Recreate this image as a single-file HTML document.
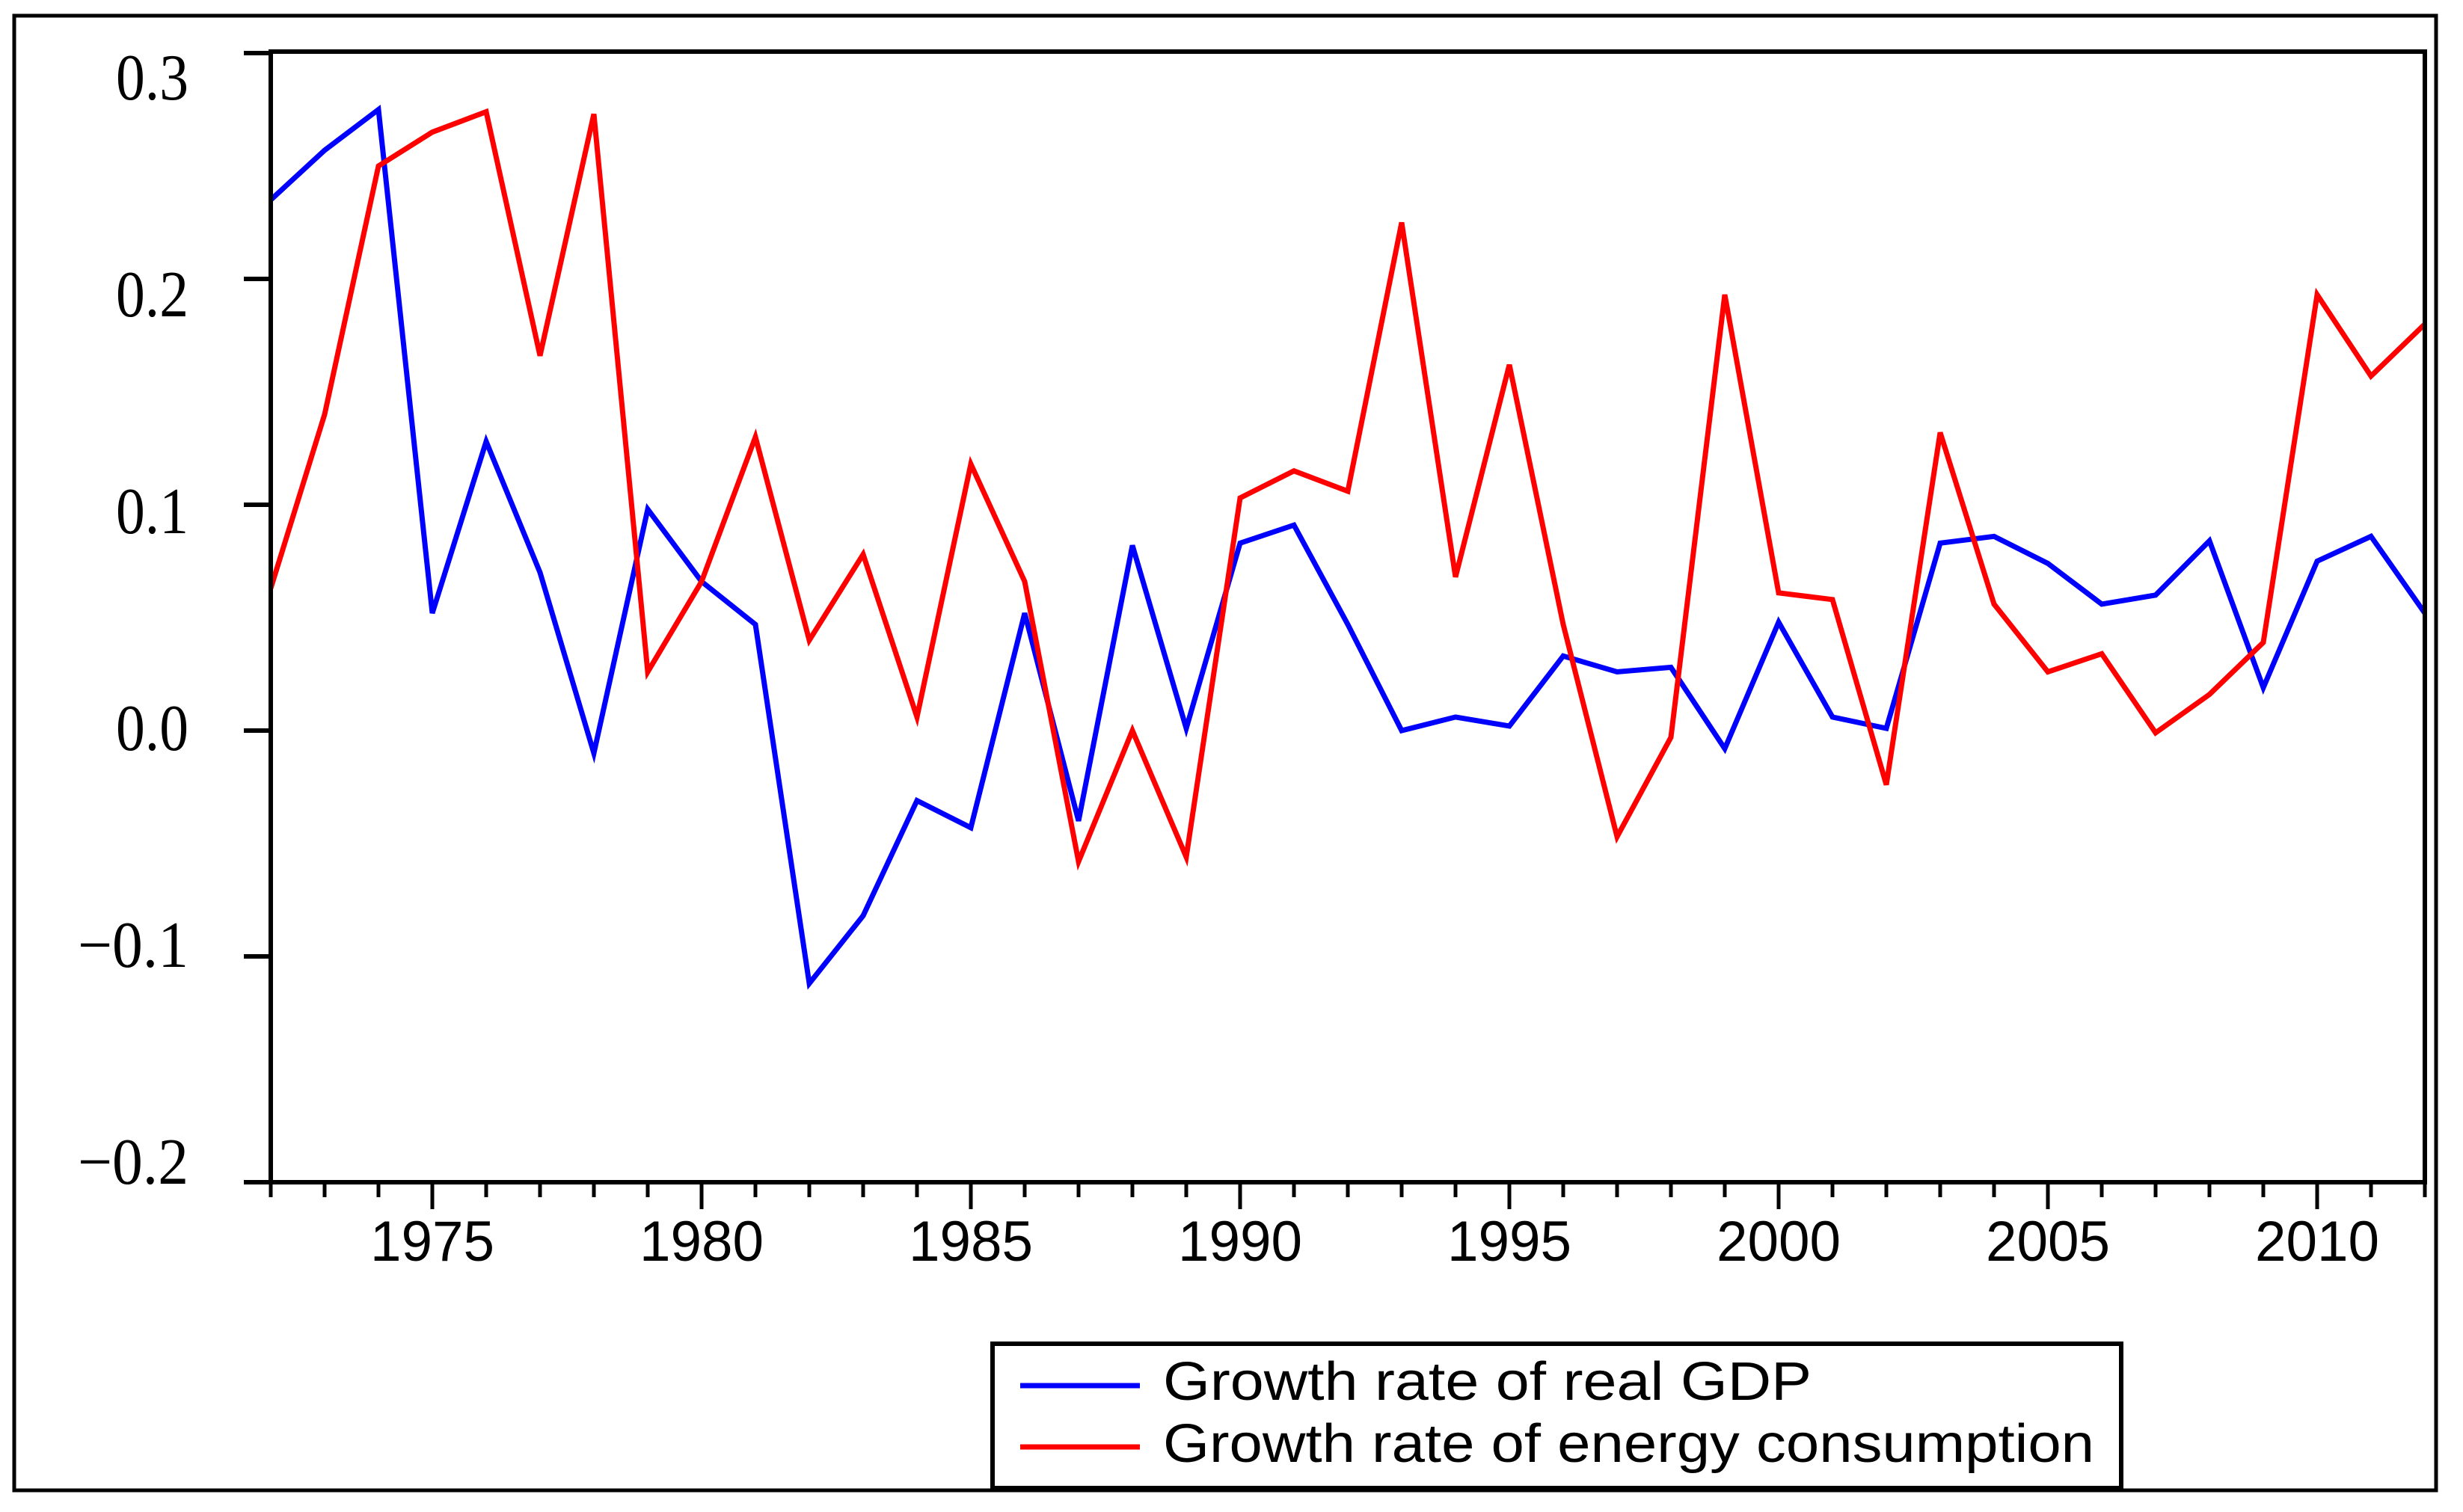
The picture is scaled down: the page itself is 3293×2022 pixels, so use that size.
<!DOCTYPE html>
<html><head><meta charset="utf-8"><style>
html,body{margin:0;padding:0;background:#fff;}
svg{display:block;}
</style></head><body>
<svg id="chart" width="3293" height="2022" viewBox="0 0 3293 2022" xmlns="http://www.w3.org/2000/svg">
<rect x="19" y="21" width="3238" height="1972" fill="none" stroke="#000" stroke-width="5"/>
<g id="yaxis"></g>
<g id="xaxis"></g>
<g id="series"></g>
<rect x="362" y="69" width="2880" height="1512" fill="none" stroke="#000" stroke-width="6"/>
<g>
<rect x="1327" y="1797" width="1509" height="193" fill="#fff" stroke="#000" stroke-width="6"/>
<line x1="1364" y1="1853" x2="1524" y2="1853" stroke="#0000ff" stroke-width="7"/>
<text x="1555" y="1872" font-family="Liberation Sans, sans-serif" font-size="72" textLength="867" lengthAdjust="spacingAndGlyphs">Growth rate of real GDP</text>
<line x1="1364" y1="1935" x2="1524" y2="1935" stroke="#ff0000" stroke-width="7"/>
<text x="1555" y="1955" font-family="Liberation Sans, sans-serif" font-size="72" textLength="1245" lengthAdjust="spacingAndGlyphs">Growth rate of energy consumption</text>
</g>
</svg>
<script>
const years = [];
for (let y = 1972; y <= 2012; y++) years.push(y);
const gdpGrowth = [0.235,0.257,0.275,0.052,0.128,0.070,-0.010,0.098,0.066,0.047,-0.112,-0.082,-0.031,-0.043,0.052,-0.040,0.082,0.001,0.083,0.091,0.047,0.000,0.006,0.002,0.033,0.026,0.028,-0.008,0.048,0.006,0.001,0.083,0.086,0.074,0.056,0.060,0.084,0.019,0.075,0.086,0.052];
const energyGrowth = [0.063,0.140,0.250,0.265,0.274,0.166,0.273,0.026,0.066,0.130,0.040,0.078,0.006,0.118,0.066,-0.058,0.000,-0.056,0.103,0.115,0.106,0.225,0.068,0.162,0.047,-0.047,-0.003,0.193,0.061,0.058,-0.024,0.132,0.056,0.026,0.034,-0.001,0.016,0.039,0.193,0.157,0.180];
const yTicks = [0.3,0.2,0.1,0.0,-0.1,-0.2];
const yTickLabels = ["0.3","0.2","0.1","0.0","\u22120.1","\u22120.2"];
const xMajorTicks = [1975,1980,1985,1990,1995,2000,2005,2010];

const NS = "http://www.w3.org/2000/svg";
const X0 = 362, X1 = 3242;
function xs(yr){ return X0 + (yr - 1972) / (2012 - 1972) * (X1 - X0); }
function ys(v){ return 71 + (0.3 - v) / 0.5 * (1581 - 71); }
// label placement in the reference is slightly compressed relative to ticks
function ylab(v){ return 133 + (0.3 - v) / 0.5 * 1450; }
function mk(tag, attrs, parent){ const e = document.createElementNS(NS, tag); for (const k in attrs) e.setAttribute(k, attrs[k]); parent.appendChild(e); return e; }

const yg = document.getElementById('yaxis');
yTicks.forEach((v, i) => {
  const t = mk('line', {x1:326, x2:362, y1:ys(v), y2:ys(v), stroke:'#000', 'stroke-width':6}, yg);
  
  
  const lab = yTickLabels[i];
  const w = lab.length > 3 ? 148 : 97;
  const tx = mk('text', {x:252, y:ylab(v), 'text-anchor':'end', 'font-family':'Liberation Serif, serif', 'font-size':88, textLength:w, lengthAdjust:'spacingAndGlyphs'}, yg);
  tx.textContent = lab;
  
  
});

const xg = document.getElementById('xaxis');
years.forEach(yr => {
  const major = xMajorTicks.includes(yr);
  const t = mk('line', {x1:xs(yr), x2:xs(yr), y1:1584, y2: major ? 1617 : 1601, stroke:'#000', 'stroke-width':5}, xg);
  
  
});
xMajorTicks.forEach(yr => {
  const tx = mk('text', {x:xs(yr), y:1686, 'text-anchor':'middle', 'font-family':'Liberation Sans, sans-serif', 'font-size':76, textLength:166, lengthAdjust:'spacingAndGlyphs'}, xg);
  tx.textContent = String(yr);
  
  
});

const sg = document.getElementById('series');
function line(vals, color, name){
  const pts = vals.map((v, i) => xs(years[i]).toFixed(1) + ',' + ys(v).toFixed(1)).join(' ');
  const p = mk('polyline', {points:pts, fill:'none', stroke:color, 'stroke-width':7, 'stroke-linejoin':'miter'}, sg);
  
  
}
line(gdpGrowth, '#0000ff', 'gdp-growth-line');
line(energyGrowth, '#ff0000', 'energy-growth-line');
</script>
</body></html>
